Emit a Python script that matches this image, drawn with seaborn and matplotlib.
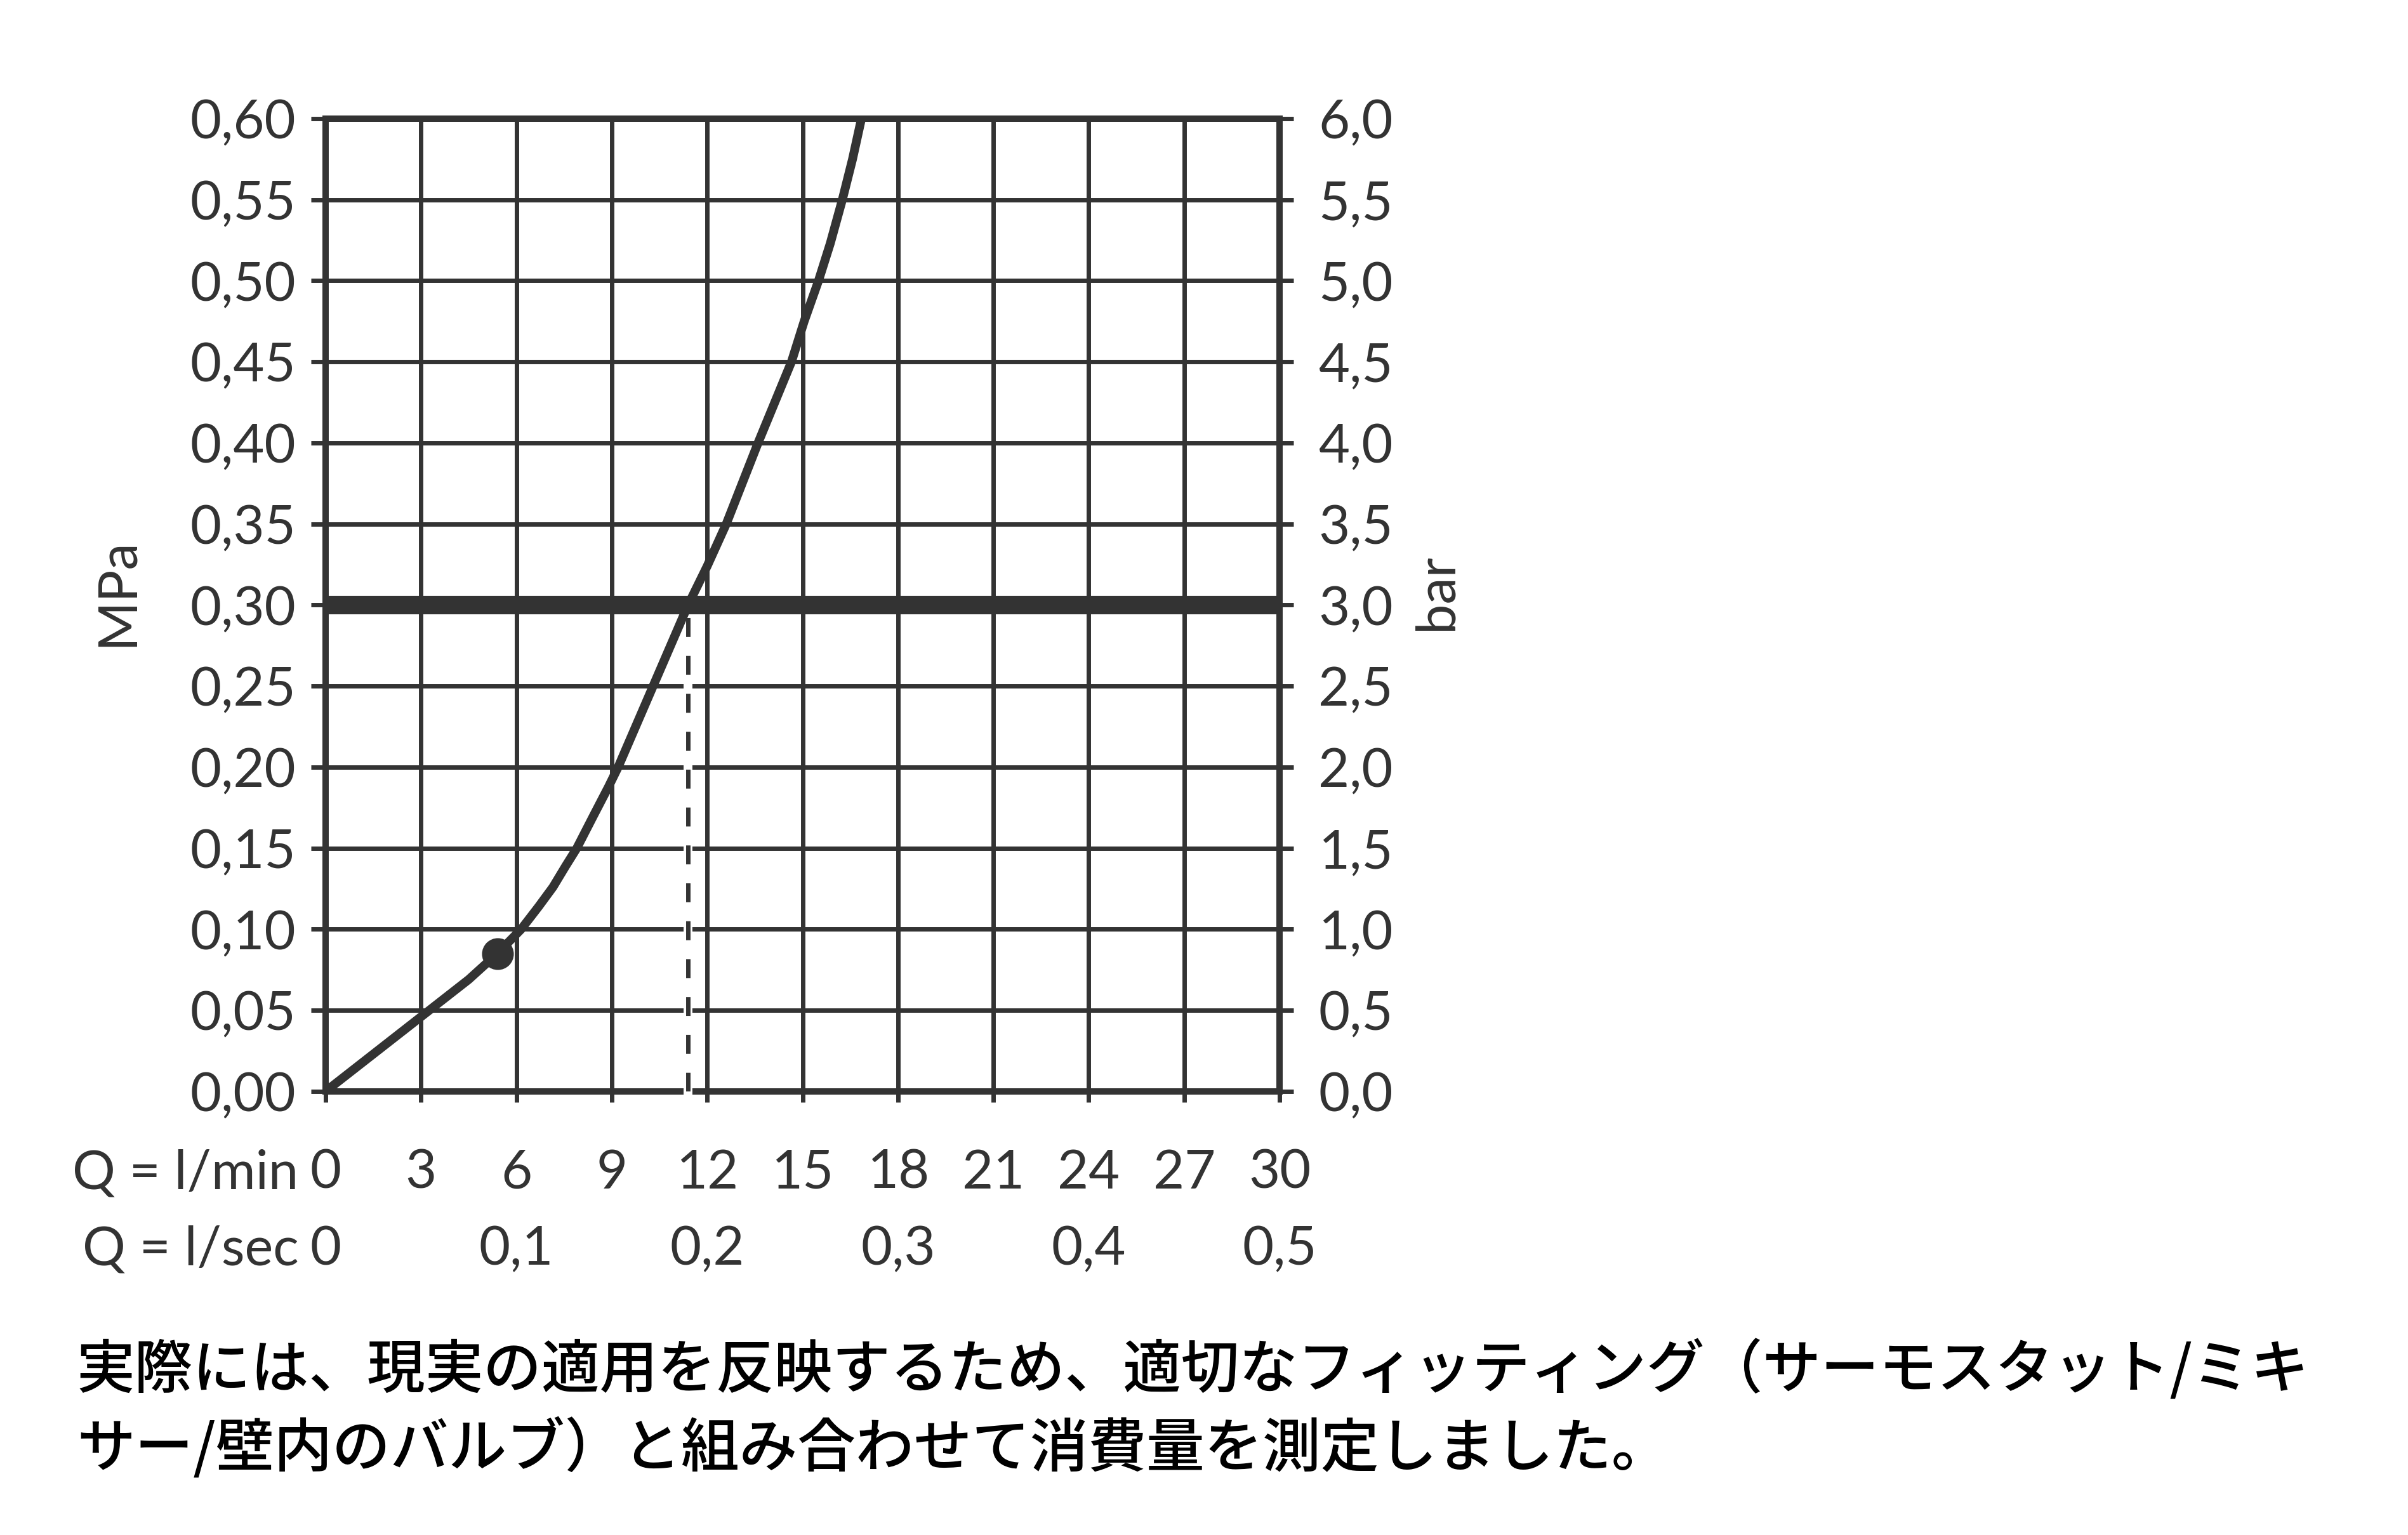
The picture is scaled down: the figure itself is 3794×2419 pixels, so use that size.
import numpy as np
import pandas as pd
import matplotlib
matplotlib.use("Agg")
import matplotlib.pyplot as plt
import seaborn as sns

# ---- data ----
flow_lmin = [0, 1.5, 3.0, 4.5, 5.4, 6.15, 6.7, 7.15, 7.55, 7.9, 8.45, 8.9, 9.2, 10.3,
             11.4, 12.0, 12.6, 13.6, 14.65, 15.05, 15.5, 15.87, 16.25, 16.57, 16.85]
pressure_mpa = [0, 0.023, 0.046, 0.069, 0.085, 0.100, 0.114, 0.126, 0.139, 0.150, 0.171,
                0.188, 0.200, 0.250, 0.300, 0.324, 0.350, 0.400, 0.450, 0.475, 0.500,
                0.523, 0.550, 0.575, 0.600]
min_flow_point = [5.4, 0.085]
ref_pressure = 0.30
ref_flow = 11.4

x_ticks_lmin = [0, 3, 6, 9, 12, 15, 18, 21, 24, 27, 30]
x_labels_lmin = ["0", "3", "6", "9", "12", "15", "18", "21", "24", "27", "30"]
x_pos_lsec = [0, 6, 12, 18, 24, 30]
x_labels_lsec = ["0", "0,1", "0,2", "0,3", "0,4", "0,5"]
y_ticks_mpa = [0, 0.05, 0.10, 0.15, 0.20, 0.25, 0.30, 0.35, 0.40, 0.45, 0.50, 0.55, 0.60]
y_labels_mpa = ["0,00", "0,05", "0,10", "0,15", "0,20", "0,25", "0,30", "0,35", "0,40",
                "0,45", "0,50", "0,55", "0,60"]
y_ticks_bar = [0, 0.5, 1.0, 1.5, 2.0, 2.5, 3.0, 3.5, 4.0, 4.5, 5.0, 5.5, 6.0]
y_labels_bar = ["0,0", "0,5", "1,0", "1,5", "2,0", "2,5", "3,0", "3,5", "4,0", "4,5",
                "5,0", "5,5", "6,0"]

note_line1 = "実際には、現実の適用を反映するため、適切なフィッティング（サーモスタット/ミキ"
note_line2 = "サー/壁内のバルブ）と組み合わせて消費量を測定しました。"

# ---- style ----
sns.set_theme(style="white")
plt.rcParams["font.family"] = ["Lato", "DejaVu Sans"]
C = "#333333"
FS = 61

fig = plt.figure(figsize=(37.94, 24.19), dpi=100)
ax = fig.add_axes([0.1352, 0.2890, 0.3962, 0.6337])

ax.set_xlim(0, 30)
ax.set_ylim(0, 0.6)
ax.set_xticks(x_ticks_lmin)
ax.set_xticklabels([])
ax.set_yticks(y_ticks_mpa)
ax.set_yticklabels(y_labels_mpa, fontsize=FS, color=C)
ax.grid(True, color=C, lw=5, zorder=1)
ax.set_axisbelow(True)
for s in ax.spines.values():
    s.set_color(C)
    s.set_linewidth(7.2)
ax.tick_params(axis="y", which="both", left=True, length=16.5, width=5, color=C,
               pad=17, labelcolor=C)
ax.tick_params(axis="x", which="both", bottom=True, length=12, width=5, color=C)

# thick 3 bar reference line
ax.axhline(ref_pressure, color=C, lw=21, zorder=2)

# dashed vertical with white halo
ax.plot([ref_flow, ref_flow], [-0.004, ref_pressure - 0.01], color="white", lw=10,
        zorder=3, clip_on=False, solid_capstyle="butt")
ax.plot([ref_flow, ref_flow], [0, ref_pressure], color=C, lw=5, zorder=4,
        dashes=(4.3, 4.3), solid_capstyle="butt")

# curve
df = pd.DataFrame({"Q": flow_lmin, "P": pressure_mpa})
sns.lineplot(data=df, x="Q", y="P", ax=ax, color=C, lw=10, zorder=5, sort=False,
             estimator=None)
for ln in ax.get_lines()[-1:]:
    ln.set_solid_joinstyle("round")
sns.scatterplot(x=[min_flow_point[0]], y=[min_flow_point[1]], ax=ax, color=C, s=1300,
                zorder=6, edgecolor=C, linewidth=0)
ax.set_xlabel("")
ax.set_ylabel("")

# right axis (bar)
ax2 = ax.twinx()
ax2.set_ylim(0, 6)
ax2.set_yticks(y_ticks_bar)
ax2.set_yticklabels(y_labels_bar, fontsize=FS, color=C)
ax2.tick_params(axis="y", right=True, length=16, width=5, color=C, pad=28)
ax2.grid(False)
for s in ax2.spines.values():
    s.set_visible(False)

# bottom labels
tr = ax.get_xaxis_transform()
for xv, lab in zip(x_ticks_lmin, x_labels_lmin):
    ax.text(xv, -0.084, lab, transform=tr, ha="center", va="center", fontsize=FS, color=C)
for xv, lab in zip(x_pos_lsec, x_labels_lsec):
    ax.text(xv, -0.163, lab, transform=tr, ha="center", va="center", fontsize=FS, color=C)
fig.text(0.1240, 1 - 1849 / 2419, "Q = l/min", ha="right", va="center", fontsize=FS, color=C)
fig.text(0.1240, 1 - 1970 / 2419, "Q = l/sec", ha="right", va="center", fontsize=FS, color=C)

# axis titles
fig.text(185 / 3794, 1 - 933 / 2419, "MPa", rotation=90, ha="center", va="center",
         fontsize=FS, color=C)
fig.text(2263 / 3794, 1 - 933 / 2419, "bar", rotation=90, ha="center", va="center",
         fontsize=FS, color=C)

# Japanese note
jp = ["Noto Sans CJK JP", "DejaVu Sans"]
fig.text(121 / 3794, 1 - 2160 / 2419, note_line1, ha="left", va="center", fontsize=66,
         color="black", family=jp, weight="medium")
fig.text(121 / 3794, 1 - 2283 / 2419, note_line2, ha="left", va="center", fontsize=66,
         color="black", family=jp, weight="medium")

fig.savefig("out.png", dpi=100, facecolor="white")
